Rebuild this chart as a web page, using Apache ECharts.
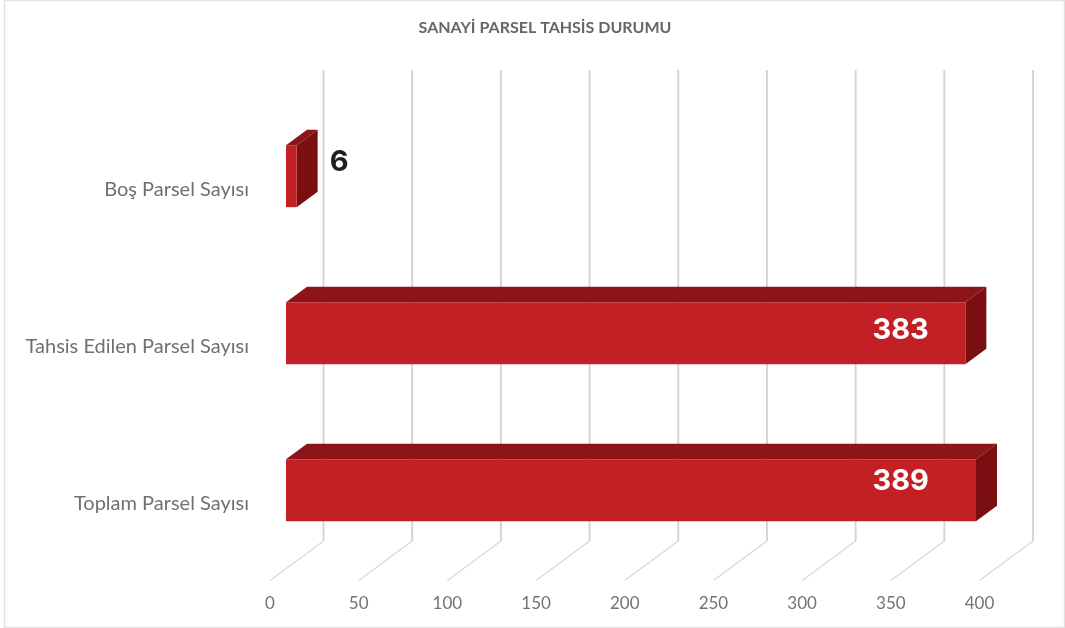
<!DOCTYPE html>
<html><head><meta charset="utf-8">
<style>html,body{margin:0;padding:0;background:#fff}#c{width:1065px;height:628px}</style>
<script src="https://cdn.jsdelivr.net/npm/echarts@6/dist/echarts.min.js"></script>
</head><body><div id="c"></div>
<script>
const chartTitle = 'SANAYİ PARSEL TAHSİS DURUMU';
const categories = ['Toplam Parsel Sayısı', 'Tahsis Edilen Parsel Sayısı', 'Boş Parsel Sayısı'];
const values = [389, 383, 6];
const ticks = [0, 50, 100, 150, 200, 250, 300, 350, 400];

// layout constants of the pseudo-3D look (pixels)
const WALL_DX = 53.5, WALL_DY = -39.5;
const BAR_DX = 16, BAR_DY = -11.8, DEPTH_DX = 21, DEPTH_DY = -15.4, BAR_H = 62;
const LABEL_CAP = 355, LABEL_DY = [-9, -3, -14];

const chart = echarts.init(document.getElementById('c'), null, {renderer: 'canvas'});
const gridItem = (params, api) => {
  const p = api.coord([api.value(0), 0]);
  const band = api.size([0, 1])[1];
  const yb = p[1] + band / 2, yt = p[1] - band * 2.5;
  return {type: 'group', silent: true, children: [
    {type: 'line', shape: {x1: p[0], y1: yb, x2: p[0] + WALL_DX, y2: yb + WALL_DY},
      style: {stroke: '#d9d9d9', lineWidth: 1.3}},
    {type: 'line', shape: {x1: p[0] + WALL_DX, y1: yb + WALL_DY, x2: p[0] + WALL_DX, y2: yt + WALL_DY},
      style: {stroke: '#d2d2d2', lineWidth: 1.8}}
  ]};
};
const barItem = (params, api) => {
  const v = api.value(0), c = api.value(1);
  const a = api.coord([0, c]), b = api.coord([v, c]);
  const x0 = a[0] + BAR_DX, x1 = b[0] + BAR_DX;
  const y0 = a[1] + BAR_DY - BAR_H / 2, y1 = y0 + BAR_H;
  const dx = DEPTH_DX, dy = DEPTH_DY;
  const lab = api.coord([Math.min(v, LABEL_CAP), c]);
  const small = v < 50;
  const lx = small ? x1 + dx + 21.5 : lab[0] + 1;
  return {type: 'group', children: [
    {type: 'polygon', shape: {points: [[x0, y0], [x0 + dx, y0 + dy], [x1 + dx, y0 + dy], [x1, y0]]},
      style: {fill: '#8b1518'}},
    {type: 'polygon', shape: {points: [[x1, y0], [x1 + dx, y0 + dy], [x1 + dx, y1 + dy], [x1, y1]]},
      style: {fill: '#7a0e10'}},
    {type: 'rect', shape: {x: x0, y: y0, width: x1 - x0, height: BAR_H}, style: {fill: '#c32025'}},
    {type: 'text', x: lx, y: a[1] + BAR_DY + LABEL_DY[c], style: {
      text: String(v), fill: small ? '#1f1f1f' : '#ffffff',
      font: '700 29px Inter', align: 'center', verticalAlign: 'middle'}}
  ]};
};
chart.setOption({
  animation: false,
  backgroundColor: '#ffffff',
  title: {text: chartTitle, left: 540, top: 15, textAlign: 'center',
    textStyle: {fontFamily: 'Lato', fontSize: 16, fontWeight: 700, color: '#666666'}},
  graphic: [{type: 'rect', z: -1, shape: {x: 4.5, y: 0.5, width: 1060, height: 627},
    style: {fill: 'none', stroke: '#e2e2e2', lineWidth: 1.5}}],
  grid: {left: 270, width: 709.5, top: 109.5, height: 471},
  xAxis: {type: 'value', min: 0, max: 400, interval: 50,
    axisLine: {show: false}, axisTick: {show: false}, splitLine: {show: false},
    axisLabel: {margin: 15, fontFamily: 'Lato', fontSize: 17, color: '#737373'}},
  yAxis: {type: 'category', data: categories,
    axisLine: {show: false}, axisTick: {show: false}, splitLine: {show: false},
    axisLabel: {margin: 21, formatter: '{a|{value}}',
      rich: {a: {padding: [4, 0, 0, 0], fontFamily: 'Lato', fontSize: 20, color: '#707070'}}}},
  series: [
    {type: 'custom', name: 'grid', z: 1, renderItem: gridItem, encode: {x: 0},
      data: ticks.map(t => [t]), silent: true, clip: false},
    {type: 'custom', name: 'Parsel', z: 2, renderItem: barItem, encode: {x: 0, y: 1},
      data: values.map((v, i) => [v, i]), clip: false}
  ]
});
</script></body></html>
